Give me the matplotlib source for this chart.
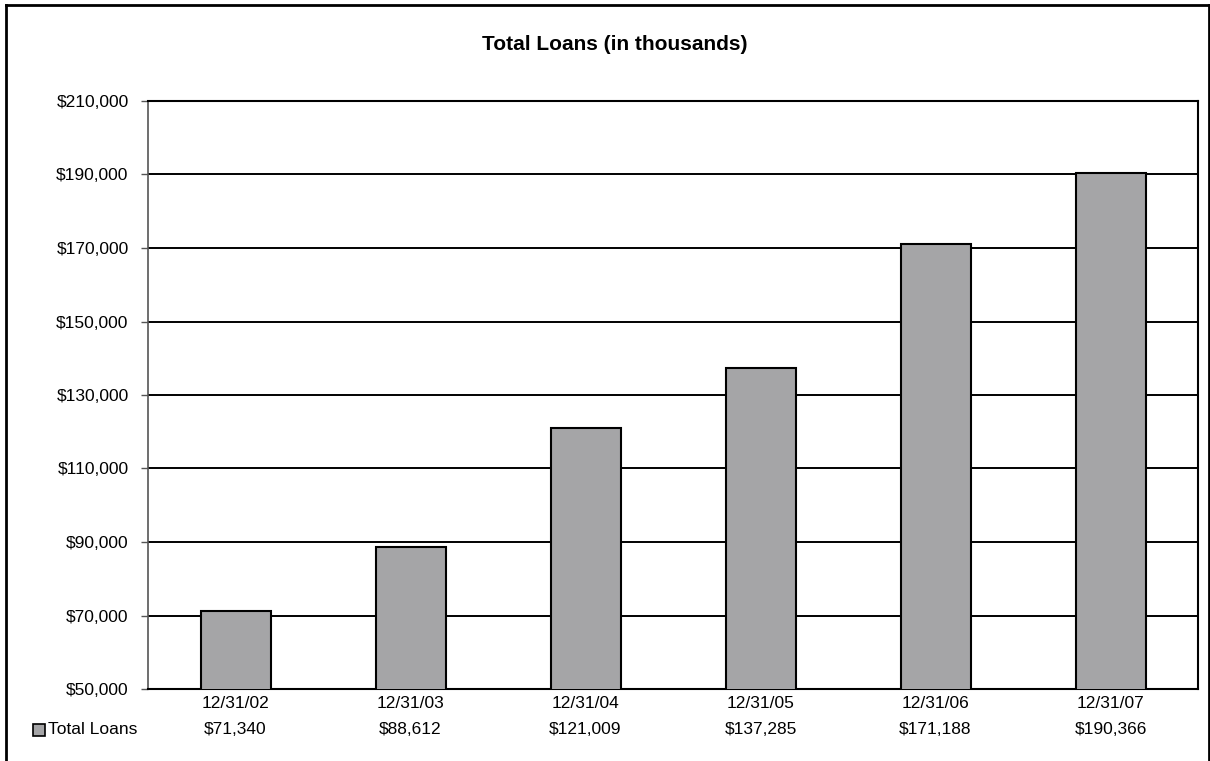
import matplotlib
matplotlib.use("Agg")
import matplotlib.pyplot as plt
from matplotlib.patches import Rectangle
from matplotlib.lines import Line2D
from matplotlib.ticker import FuncFormatter, FixedLocator
import matplotlib.transforms as mtransforms

categories = ["12/31/02", "12/31/03", "12/31/04", "12/31/05", "12/31/06", "12/31/07"]
loans = [71340, 88612, 121009, 137285, 171188, 190366]
value_labels = ["$71,340", "$88,612", "$121,009", "$137,285", "$171,188", "$190,366"]
y_ticks = [50000, 70000, 90000, 110000, 130000, 150000, 170000, 190000, 210000]
series_name = "Total Loans"
title = "Total Loans (in thousands)"

W, H, DPI = 1210, 761, 100
plt.rcParams['font.family'] = ['Liberation Sans', 'DejaVu Sans']
fig = plt.figure(figsize=(W / DPI, H / DPI), dpi=DPI)
fig.patch.set_facecolor('white')

def fx(px):
    return px / W

def fy(py):
    return 1 - py / H

FS = 12.5

ax = fig.add_axes([fx(148), fy(689), fx(1198) - fx(148), fy(101) - fy(689)])
bar_color = '#A5A5A7'
x = list(range(len(categories)))
ax.bar(x, loans, width=0.40, color=bar_color, edgecolor='black', linewidth=1.5, zorder=3)
ax.set_xlim(-0.5, len(categories) - 0.5)
ax.set_ylim(y_ticks[0], y_ticks[-1])
ax.yaxis.set_major_locator(FixedLocator(y_ticks))
ax.yaxis.set_major_formatter(FuncFormatter(lambda v, p: "${:,.0f}".format(v)))
ax.grid(axis='y', color='black', linewidth=1.4, zorder=1)
ax.set_axisbelow(True)
for s in ['top', 'right', 'bottom']:
    ax.spines[s].set_color('black')
    ax.spines[s].set_linewidth(1.5)
ax.spines['left'].set_color('#555555')
ax.spines['left'].set_linewidth(1.2)
ax.tick_params(axis='y', length=5, width=1.0, color='#555555', pad=9, labelsize=FS)
ax.set_xticks(x)
ax.set_xticklabels([])
ax.tick_params(axis='x', length=0)

trans = mtransforms.blended_transform_factory(ax.transData, fig.transFigure)
for xi, cat, val in zip(x, categories, value_labels):
    ax.text(xi, fy(703), cat, transform=trans, ha='center', va='center', fontsize=FS, clip_on=False)
    ax.text(xi, fy(729), val, transform=trans, ha='center', va='center', fontsize=FS, clip_on=False)

# legend key in data table
fig.add_artist(Rectangle((fx(33), fy(736)), fx(12), fy(724) - fy(736), transform=fig.transFigure,
                         facecolor=bar_color, edgecolor='black', linewidth=1.2))
fig.text(fx(48), fy(730), series_name, ha='left', va='center', fontsize=FS)

fig.text(fx(615), fy(45), title, ha='center', va='center', fontsize=15, fontweight='bold')

# outer border
border_kw = dict(color='black', linewidth=2.0, transform=fig.transFigure)
fig.add_artist(Line2D([fx(5.5), fx(1208.5)], [fy(4.5), fy(4.5)], **border_kw))
fig.add_artist(Line2D([fx(5.5), fx(5.5)], [fy(4.5), fy(761)], **border_kw))
fig.add_artist(Line2D([fx(1208.5), fx(1208.5)], [fy(4.5), fy(761)], **border_kw))

fig.savefig("out.png", dpi=DPI, facecolor='white')
